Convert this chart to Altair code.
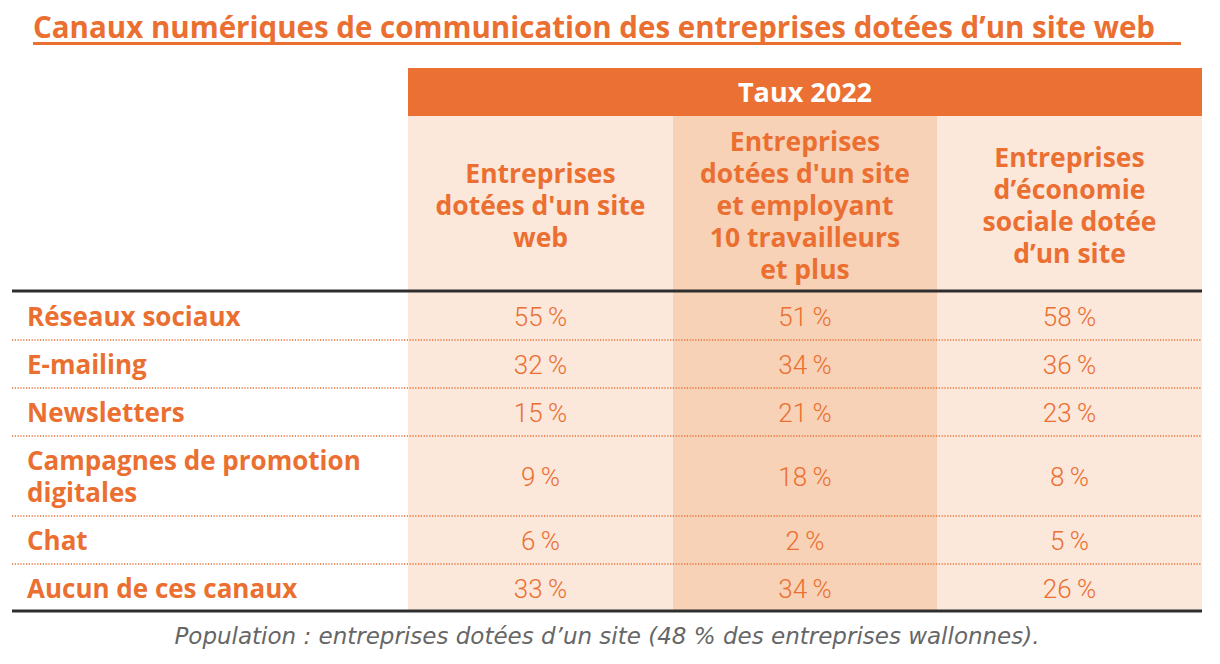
import altair as alt
import pandas as pd

# ---------------- data ----------------
title = "Canaux numériques de communication des entreprises dotées d\u2019un site web"
band_label = "Taux 2022"
categories = [
    "Réseaux sociaux",
    "E-mailing",
    "Newsletters",
    "Campagnes de promotion\ndigitales",
    "Chat",
    "Aucun de ces canaux",
]
col_headers = [
    "Entreprises\ndotées d'un site\nweb",
    "Entreprises\ndotées d'un site\net employant\n10 travailleurs\net plus",
    "Entreprises\nd\u2019économie\nsociale dotée\nd\u2019un site",
]
taux_site_web = [55, 32, 15, 9, 6, 33]
taux_10_plus = [51, 34, 21, 18, 2, 34]
taux_eco_sociale = [58, 36, 23, 8, 5, 26]
footnote = "Population : entreprises dotées d\u2019un site (48 % des entreprises wallonnes)."

# ---------------- layout ----------------
W, H = 1204, 648
TABLE_X0 = 4
LABEL_W = 396
COL_W = [265, 264, 265]
BAND_Y0 = 60
BAND_H = 48
HEAD_H = 175
ROW_H = [49, 48, 48, 80, 48, 47]
LINE_H = 32

ORANGE = "#EA6F31"
BAND = "#EA7133"
COL_BG = ["#FCE7DB", "#F8D2B7", "#FCE7DB"]
DARK = "#2E2E2E"
GREY = "#666666"
BOLD_FONT = "Open Sans"
LIGHT_FONT = "Roboto"

col_x0 = [TABLE_X0 + LABEL_W]
for w in COL_W:
    col_x0.append(col_x0[-1] + w)
table_x1 = col_x0[-1]
head_y0 = BAND_Y0 + BAND_H
head_y1 = head_y0 + HEAD_H
row_y = [head_y1]
for h in ROW_H:
    row_y.append(row_y[-1] + h)
table_y1 = row_y[-1]

xs = alt.Scale(domain=[0, W], nice=False, zero=False)
ys = alt.Scale(domain=[0, H], nice=False, zero=False, reverse=True)


def X(f):
    return alt.X(f, type="quantitative", scale=xs, axis=None)


def Y(f):
    return alt.Y(f, type="quantitative", scale=ys, axis=None)


def first_line_y(center, text):
    n = text.count("\n") + 1
    return center - (n - 1) * LINE_H / 2


# backgrounds
bg = pd.DataFrame(
    [{"x": col_x0[0], "x2": table_x1, "y": BAND_Y0, "y2": head_y0, "c": BAND}]
    + [
        {"x": col_x0[i], "x2": col_x0[i + 1], "y": head_y0, "y2": table_y1, "c": COL_BG[i]}
        for i in range(3)
    ]
)
bg_layer = alt.Chart(bg).mark_rect().encode(
    x=X("x"), x2="x2", y=Y("y"), y2="y2", color=alt.Color("c:N", scale=None)
)

# dotted separators
dots = pd.DataFrame([{"x": TABLE_X0, "x2": table_x1, "y": y} for y in row_y[1:-1]])
dot_layer = alt.Chart(dots).mark_rule(
    color=ORANGE, strokeWidth=1.6, strokeDash=[1.2, 1.6]
).encode(x=X("x"), x2="x2", y=Y("y"))

# thick lines
thick = pd.DataFrame([{"x": TABLE_X0, "x2": table_x1, "y": y} for y in [head_y1, table_y1]])
thick_layer = alt.Chart(thick).mark_rule(color=DARK, strokeWidth=3).encode(
    x=X("x"), x2="x2", y=Y("y")
)

# title + underline
t_df = pd.DataFrame([{"x": 25, "y": 21, "t": title}])
title_layer = alt.Chart(t_df).mark_text(
    align="left", baseline="middle", font=BOLD_FONT, fontWeight="bold", fontSize=29.5, color=ORANGE
).encode(x=X("x"), y=Y("y"), text="t:N")
ul = pd.DataFrame([{"x": 25, "x2": 1173, "y": 35.5}])
ul_layer = alt.Chart(ul).mark_rule(color=ORANGE, strokeWidth=3).encode(
    x=X("x"), x2="x2", y=Y("y")
)

# band label
band_df = pd.DataFrame([{"x": (col_x0[0] + table_x1) / 2, "y": BAND_Y0 + BAND_H / 2 + 2, "t": band_label}])
band_layer = alt.Chart(band_df).mark_text(
    align="center", baseline="middle", font=BOLD_FONT, fontWeight="bold", fontSize=27, color="white"
).encode(x=X("x"), y=Y("y"), text="t:N")

# column headers
hd = pd.DataFrame(
    [
        {
            "x": (col_x0[i] + col_x0[i + 1]) / 2,
            "y": first_line_y((head_y0 + head_y1) / 2 + 3, col_headers[i]),
            "t": col_headers[i],
        }
        for i in range(3)
    ]
)
head_layer = alt.Chart(hd).mark_text(
    align="center", baseline="middle", font=BOLD_FONT, fontWeight="bold", fontSize=26.5,
    color=ORANGE, lineBreak="\n", lineHeight=LINE_H
).encode(x=X("x"), y=Y("y"), text="t:N")

# row labels
rl = pd.DataFrame(
    [
        {
            "x": TABLE_X0 + 15,
            "y": first_line_y((row_y[i] + row_y[i + 1]) / 2 + 2, categories[i]),
            "t": categories[i],
        }
        for i in range(len(categories))
    ]
)
row_layer = alt.Chart(rl).mark_text(
    align="left", baseline="middle", font=BOLD_FONT, fontWeight="bold", fontSize=26,
    color=ORANGE, lineBreak="\n", lineHeight=LINE_H
).encode(x=X("x"), y=Y("y"), text="t:N")

# values
series = [taux_site_web, taux_10_plus, taux_eco_sociale]
vals = []
for j, s in enumerate(series):
    for i, v in enumerate(s):
        vals.append(
            {
                "x": (col_x0[j] + col_x0[j + 1]) / 2,
                "y": (row_y[i] + row_y[i + 1]) / 2 + 2,
                "t": f"{v}\u2009%",
            }
        )
val_layer = alt.Chart(pd.DataFrame(vals)).mark_text(
    align="center", baseline="middle", font=LIGHT_FONT, fontWeight=300, fontSize=26, color=ORANGE
).encode(x=X("x"), y=Y("y"), text="t:N")

# footnote
fn = pd.DataFrame([{"x": (TABLE_X0 + table_x1) / 2, "y": 629, "t": footnote}])
fn_layer = alt.Chart(fn).mark_text(
    align="center", baseline="middle", font="DejaVu Sans", fontStyle="italic", fontWeight=200,
    fontSize=23, color=GREY
).encode(x=X("x"), y=Y("y"), text="t:N")

chart = (
    alt.layer(
        bg_layer, dot_layer, thick_layer, title_layer, ul_layer, band_layer,
        head_layer, row_layer, val_layer, fn_layer,
    )
    .properties(width=W, height=H, padding=0, autosize=alt.AutoSizeParams(type="none"))
    .configure(background="white", view=alt.ViewConfig(stroke=None))
)

chart.save("out.html", embed_options={"renderer": "svg", "actions": False})
